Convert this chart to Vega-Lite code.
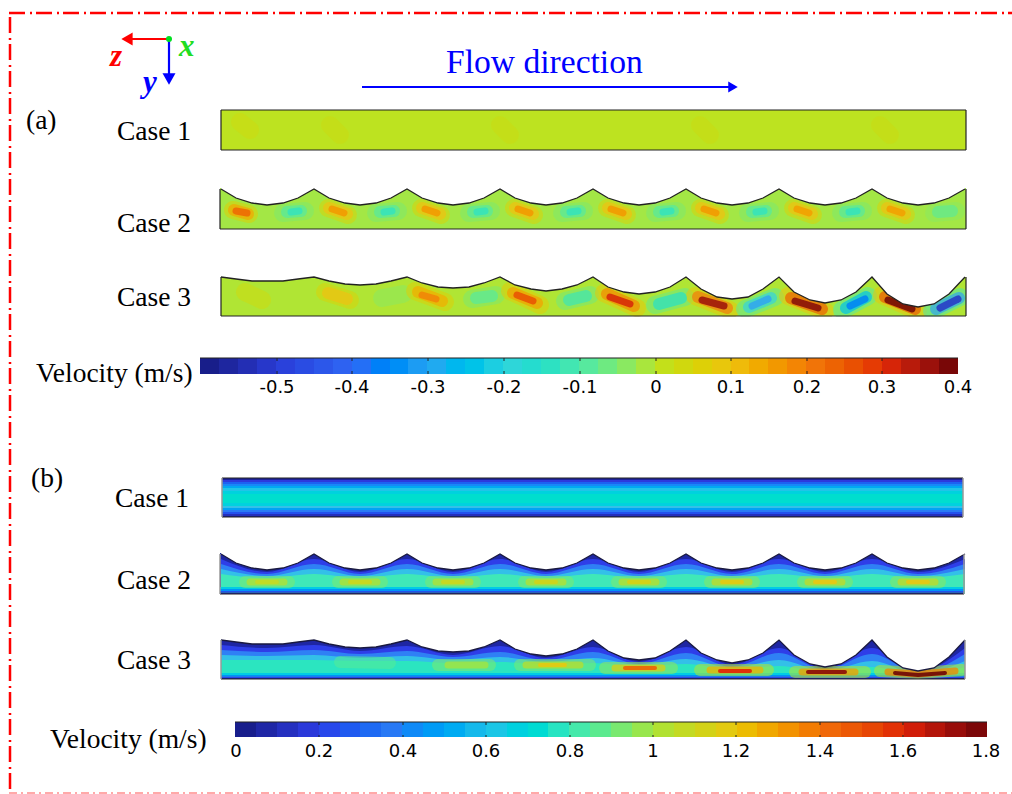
{"$schema":"https://vega.github.io/schema/vega-lite/v6.json","width":1012,"height":794,"padding":0,"autosize":"none","background":"#ffffff","config":{"view":{"stroke":null}},
"datasets":{
"ar":[{"x":221,"x2":966,"y":110,"y2":150,"v":0},{"x":220,"x2":966,"y":188,"y2":229,"v":-0.02},{"x":221,"x2":966,"y":277,"y2":316,"v":-0.01},
{"x":200,"x2":219,"y":358,"y2":374,"v":-0.59},{"x":219,"x2":238,"y":358,"y2":374,"v":-0.565},{"x":238,"x2":257,"y":358,"y2":374,"v":-0.54},{"x":257,"x2":276,"y":358,"y2":374,"v":-0.515},{"x":276,"x2":295,"y":358,"y2":374,"v":-0.49},{"x":295,"x2":314,"y":358,"y2":374,"v":-0.465},{"x":314,"x2":333,"y":358,"y2":374,"v":-0.44},{"x":333,"x2":352,"y":358,"y2":374,"v":-0.415},{"x":352,"x2":371,"y":358,"y2":374,"v":-0.39},{"x":371,"x2":390,"y":358,"y2":374,"v":-0.365},{"x":390,"x2":408,"y":358,"y2":374,"v":-0.34},{"x":408,"x2":427,"y":358,"y2":374,"v":-0.315},{"x":427,"x2":446,"y":358,"y2":374,"v":-0.29},{"x":446,"x2":465,"y":358,"y2":374,"v":-0.265},{"x":465,"x2":484,"y":358,"y2":374,"v":-0.24},{"x":484,"x2":503,"y":358,"y2":374,"v":-0.215},{"x":503,"x2":522,"y":358,"y2":374,"v":-0.19},{"x":522,"x2":541,"y":358,"y2":374,"v":-0.165},{"x":541,"x2":560,"y":358,"y2":374,"v":-0.14},{"x":560,"x2":579,"y":358,"y2":374,"v":-0.115},{"x":579,"x2":598,"y":358,"y2":374,"v":-0.09},{"x":598,"x2":617,"y":358,"y2":374,"v":-0.065},{"x":617,"x2":636,"y":358,"y2":374,"v":-0.04},{"x":636,"x2":655,"y":358,"y2":374,"v":-0.015},{"x":655,"x2":674,"y":358,"y2":374,"v":0.01},{"x":674,"x2":693,"y":358,"y2":374,"v":0.035},{"x":693,"x2":712,"y":358,"y2":374,"v":0.06},{"x":712,"x2":731,"y":358,"y2":374,"v":0.085},{"x":731,"x2":749,"y":358,"y2":374,"v":0.11},{"x":749,"x2":768,"y":358,"y2":374,"v":0.135},{"x":768,"x2":787,"y":358,"y2":374,"v":0.16},{"x":787,"x2":806,"y":358,"y2":374,"v":0.185},{"x":806,"x2":825,"y":358,"y2":374,"v":0.21},{"x":825,"x2":844,"y":358,"y2":374,"v":0.235},{"x":844,"x2":863,"y":358,"y2":374,"v":0.26},{"x":863,"x2":882,"y":358,"y2":374,"v":0.285},{"x":882,"x2":901,"y":358,"y2":374,"v":0.31},{"x":901,"x2":920,"y":358,"y2":374,"v":0.335},{"x":920,"x2":939,"y":358,"y2":374,"v":0.36},{"x":939,"x2":958,"y":358,"y2":374,"v":0.39}],
"ao":[{"i":41,"x":240,"y":122,"v":0.03},{"i":41,"x":250,"y":130,"v":0.03},{"i":42,"x":330,"y":125,"v":0.025},{"i":42,"x":340,"y":135,"v":0.025},{"i":43,"x":500,"y":125,"v":0.025},{"i":43,"x":510,"y":135,"v":0.025},{"i":44,"x":700,"y":125,"v":0.025},{"i":44,"x":710,"y":135,"v":0.025},{"i":45,"x":880,"y":125,"v":0.025},{"i":45,"x":890,"y":135,"v":0.025},
{"i":1,"x":233,"y":210,"v":0.06},{"i":1,"x":249,"y":214,"v":0.06},{"i":2,"x":328,"y":208,"v":0.05},{"i":2,"x":348,"y":215,"v":0.05},{"i":3,"x":421,"y":208,"v":0.05},{"i":3,"x":441,"y":215,"v":0.05},{"i":4,"x":514,"y":208,"v":0.05},{"i":4,"x":534,"y":215,"v":0.05},{"i":5,"x":607,"y":208,"v":0.05},{"i":5,"x":627,"y":215,"v":0.05},{"i":6,"x":700,"y":208,"v":0.05},{"i":6,"x":720,"y":215,"v":0.05},{"i":7,"x":793,"y":208,"v":0.05},{"i":7,"x":813,"y":215,"v":0.05},{"i":8,"x":886,"y":208,"v":0.05},{"i":8,"x":906,"y":215,"v":0.05},
{"i":9,"x":283,"y":213,"v":-0.05},{"i":9,"x":305,"y":211,"v":-0.05},{"i":10,"x":376,"y":213,"v":-0.05},{"i":10,"x":398,"y":211,"v":-0.05},{"i":11,"x":469,"y":213,"v":-0.05},{"i":11,"x":491,"y":211,"v":-0.05},{"i":12,"x":562,"y":213,"v":-0.05},{"i":12,"x":584,"y":211,"v":-0.05},{"i":13,"x":655,"y":213,"v":-0.05},{"i":13,"x":677,"y":211,"v":-0.05},{"i":14,"x":748,"y":213,"v":-0.05},{"i":14,"x":770,"y":211,"v":-0.05},{"i":15,"x":841,"y":213,"v":-0.05},{"i":15,"x":863,"y":211,"v":-0.05},{"i":16,"x":934,"y":213,"v":-0.04},{"i":16,"x":956,"y":211,"v":-0.04},
{"i":17,"x":245,"y":292,"v":0.03},{"i":17,"x":262,"y":300,"v":0.03},{"i":18,"x":325,"y":292,"v":0.05},{"i":18,"x":350,"y":300,"v":0.05},{"i":19,"x":382,"y":298,"v":-0.04},{"i":19,"x":403,"y":294,"v":-0.04},{"i":20,"x":415,"y":291,"v":0.06},{"i":20,"x":445,"y":302,"v":0.06},{"i":21,"x":472,"y":299,"v":-0.05},{"i":21,"x":496,"y":295,"v":-0.05},{"i":22,"x":510,"y":291,"v":0.07},{"i":22,"x":540,"y":305,"v":0.07},{"i":23,"x":565,"y":301,"v":-0.06},{"i":23,"x":590,"y":295,"v":-0.06},{"i":24,"x":604,"y":293,"v":0.08},{"i":24,"x":637,"y":308,"v":0.08},{"i":25,"x":655,"y":305,"v":-0.07},{"i":25,"x":685,"y":297,"v":-0.07},{"i":26,"x":695,"y":296,"v":0.08},{"i":26,"x":730,"y":310,"v":0.08},{"i":27,"x":745,"y":309,"v":-0.08},{"i":27,"x":775,"y":297,"v":-0.08},{"i":28,"x":788,"y":296,"v":0.09},{"i":28,"x":825,"y":311,"v":0.09},{"i":29,"x":842,"y":310,"v":-0.09},{"i":29,"x":868,"y":296,"v":-0.09},{"i":30,"x":882,"y":295,"v":0.09},{"i":30,"x":918,"y":311,"v":0.09},{"i":31,"x":932,"y":311,"v":-0.1},{"i":31,"x":960,"y":297,"v":-0.1}],
"am":[{"i":1,"x":234,"y":210,"v":0.14},{"i":1,"x":248,"y":214,"v":0.14},{"i":2,"x":329,"y":208,"v":0.1},{"i":2,"x":347,"y":214,"v":0.1},{"i":3,"x":422,"y":208,"v":0.1},{"i":3,"x":440,"y":214,"v":0.1},{"i":4,"x":515,"y":208,"v":0.1},{"i":4,"x":533,"y":214,"v":0.1},{"i":5,"x":608,"y":208,"v":0.1},{"i":5,"x":626,"y":214,"v":0.1},{"i":6,"x":701,"y":208,"v":0.1},{"i":6,"x":719,"y":214,"v":0.1},{"i":7,"x":794,"y":208,"v":0.1},{"i":7,"x":812,"y":214,"v":0.1},{"i":8,"x":887,"y":208,"v":0.1},{"i":8,"x":905,"y":214,"v":0.1},
{"i":9,"x":287,"y":212,"v":-0.09},{"i":9,"x":301,"y":211,"v":-0.09},{"i":10,"x":380,"y":212,"v":-0.09},{"i":10,"x":394,"y":211,"v":-0.09},{"i":11,"x":473,"y":212,"v":-0.09},{"i":11,"x":487,"y":211,"v":-0.09},{"i":12,"x":566,"y":212,"v":-0.09},{"i":12,"x":580,"y":211,"v":-0.09},{"i":13,"x":659,"y":212,"v":-0.09},{"i":13,"x":673,"y":211,"v":-0.09},{"i":14,"x":752,"y":212,"v":-0.09},{"i":14,"x":766,"y":211,"v":-0.09},{"i":15,"x":845,"y":212,"v":-0.09},{"i":15,"x":859,"y":211,"v":-0.09},{"i":16,"x":938,"y":212,"v":-0.08},{"i":16,"x":952,"y":211,"v":-0.08},
{"i":18,"x":328,"y":293,"v":0.1},{"i":18,"x":347,"y":299,"v":0.1},{"i":20,"x":418,"y":292,"v":0.13},{"i":20,"x":442,"y":301,"v":0.13},{"i":21,"x":476,"y":298,"v":-0.09},{"i":21,"x":492,"y":296,"v":-0.09},{"i":22,"x":513,"y":293,"v":0.15},{"i":22,"x":537,"y":303,"v":0.15},{"i":23,"x":569,"y":300,"v":-0.12},{"i":23,"x":586,"y":296,"v":-0.12},{"i":24,"x":607,"y":294,"v":0.18},{"i":24,"x":634,"y":306,"v":0.18},{"i":25,"x":659,"y":304,"v":-0.15},{"i":25,"x":681,"y":298,"v":-0.15},{"i":26,"x":698,"y":297,"v":0.2},{"i":26,"x":727,"y":308,"v":0.2},{"i":27,"x":749,"y":307,"v":-0.2},{"i":27,"x":771,"y":298,"v":-0.2},{"i":28,"x":791,"y":298,"v":0.24},{"i":28,"x":822,"y":309,"v":0.24},{"i":29,"x":846,"y":308,"v":-0.24},{"i":29,"x":866,"y":297,"v":-0.24},{"i":30,"x":885,"y":297,"v":0.25},{"i":30,"x":915,"y":309,"v":0.25},{"i":31,"x":936,"y":309,"v":-0.3},{"i":31,"x":959,"y":298,"v":-0.3}],
"ac":[{"i":1,"x":236,"y":211,"v":0.23},{"i":1,"x":247,"y":213,"v":0.23},{"i":2,"x":332,"y":209,"v":0.16},{"i":2,"x":344,"y":213,"v":0.16},{"i":3,"x":425,"y":209,"v":0.16},{"i":3,"x":437,"y":213,"v":0.16},{"i":4,"x":518,"y":209,"v":0.16},{"i":4,"x":530,"y":213,"v":0.16},{"i":5,"x":611,"y":209,"v":0.16},{"i":5,"x":623,"y":213,"v":0.16},{"i":6,"x":704,"y":209,"v":0.16},{"i":6,"x":716,"y":213,"v":0.16},{"i":7,"x":797,"y":209,"v":0.15},{"i":7,"x":809,"y":213,"v":0.15},{"i":8,"x":890,"y":209,"v":0.15},{"i":8,"x":902,"y":213,"v":0.15},
{"i":9,"x":291,"y":212,"v":-0.13},{"i":9,"x":299,"y":211,"v":-0.13},{"i":10,"x":384,"y":212,"v":-0.13},{"i":10,"x":392,"y":211,"v":-0.13},{"i":11,"x":477,"y":212,"v":-0.13},{"i":11,"x":485,"y":211,"v":-0.13},{"i":12,"x":570,"y":212,"v":-0.13},{"i":12,"x":578,"y":211,"v":-0.13},{"i":13,"x":663,"y":212,"v":-0.13},{"i":13,"x":671,"y":211,"v":-0.13},{"i":14,"x":756,"y":212,"v":-0.13},{"i":14,"x":764,"y":211,"v":-0.13},{"i":15,"x":849,"y":212,"v":-0.13},{"i":15,"x":857,"y":211,"v":-0.13},
{"i":20,"x":422,"y":295,"v":0.19},{"i":20,"x":436,"y":299,"v":0.19},{"i":22,"x":517,"y":295,"v":0.26},{"i":22,"x":533,"y":301,"v":0.26},{"i":24,"x":610,"y":297,"v":0.31},{"i":24,"x":630,"y":304,"v":0.31},{"i":26,"x":702,"y":300,"v":0.36},{"i":26,"x":724,"y":306,"v":0.36},{"i":27,"x":752,"y":306,"v":-0.3},{"i":27,"x":768,"y":299,"v":-0.3},{"i":28,"x":795,"y":301,"v":0.38},{"i":28,"x":818,"y":308,"v":0.38},{"i":29,"x":850,"y":306,"v":-0.36},{"i":29,"x":865,"y":299,"v":-0.36},{"i":30,"x":888,"y":300,"v":0.4},{"i":30,"x":912,"y":309,"v":0.4},{"i":31,"x":940,"y":308,"v":-0.52},{"i":31,"x":958,"y":299,"v":-0.52}],
"bg":[{"x":220,"x2":964,"y":553,"y2":594,"v":0.07},{"x":221,"x2":965,"y":640,"y2":679,"v":0.07},
{"x":235,"x2":256,"y":722,"y2":737,"v":0.025},{"x":256,"x2":277,"y":722,"y2":737,"v":0.075},{"x":277,"x2":298,"y":722,"y2":737,"v":0.125},{"x":298,"x2":319,"y":722,"y2":737,"v":0.175},{"x":319,"x2":340,"y":722,"y2":737,"v":0.225},{"x":340,"x2":360,"y":722,"y2":737,"v":0.275},{"x":360,"x2":381,"y":722,"y2":737,"v":0.325},{"x":381,"x2":402,"y":722,"y2":737,"v":0.375},{"x":402,"x2":423,"y":722,"y2":737,"v":0.425},{"x":423,"x2":444,"y":722,"y2":737,"v":0.475},{"x":444,"x2":465,"y":722,"y2":737,"v":0.525},{"x":465,"x2":486,"y":722,"y2":737,"v":0.575},{"x":486,"x2":507,"y":722,"y2":737,"v":0.625},{"x":507,"x2":528,"y":722,"y2":737,"v":0.675},{"x":528,"x2":548,"y":722,"y2":737,"v":0.725},{"x":548,"x2":569,"y":722,"y2":737,"v":0.775},{"x":569,"x2":590,"y":722,"y2":737,"v":0.825},{"x":590,"x2":611,"y":722,"y2":737,"v":0.875},{"x":611,"x2":632,"y":722,"y2":737,"v":0.925},{"x":632,"x2":653,"y":722,"y2":737,"v":0.975},{"x":653,"x2":674,"y":722,"y2":737,"v":1.025},{"x":674,"x2":695,"y":722,"y2":737,"v":1.075},{"x":695,"x2":716,"y":722,"y2":737,"v":1.125},{"x":716,"x2":737,"y":722,"y2":737,"v":1.175},{"x":737,"x2":757,"y":722,"y2":737,"v":1.225},{"x":757,"x2":778,"y":722,"y2":737,"v":1.275},{"x":778,"x2":799,"y":722,"y2":737,"v":1.325},{"x":799,"x2":820,"y":722,"y2":737,"v":1.375},{"x":820,"x2":841,"y":722,"y2":737,"v":1.425},{"x":841,"x2":862,"y":722,"y2":737,"v":1.475},{"x":862,"x2":883,"y":722,"y2":737,"v":1.525},{"x":883,"x2":904,"y":722,"y2":737,"v":1.575},{"x":904,"x2":925,"y":722,"y2":737,"v":1.625},{"x":925,"x2":945,"y":722,"y2":737,"v":1.675},{"x":945,"x2":966,"y":722,"y2":737,"v":1.725},{"x":966,"x2":987,"y":722,"y2":737,"v":1.775}],
"bi":[{"g":1,"x":221,"y":559,"z":594,"v":0.2},{"g":1,"x":267,"y":572,"z":594,"v":0.2},{"g":1,"x":314,"y":559,"z":594,"v":0.2},{"g":1,"x":360,"y":572,"z":594,"v":0.2},{"g":1,"x":407,"y":559,"z":594,"v":0.2},{"g":1,"x":453,"y":572,"z":594,"v":0.2},{"g":1,"x":500,"y":559,"z":594,"v":0.2},{"g":1,"x":546,"y":572,"z":594,"v":0.2},{"g":1,"x":593,"y":559,"z":594,"v":0.2},{"g":1,"x":639,"y":572,"z":594,"v":0.2},{"g":1,"x":686,"y":559,"z":594,"v":0.2},{"g":1,"x":732,"y":572,"z":594,"v":0.2},{"g":1,"x":779,"y":559,"z":594,"v":0.2},{"g":1,"x":825,"y":572,"z":594,"v":0.2},{"g":1,"x":872,"y":559,"z":594,"v":0.2},{"g":1,"x":918,"y":572,"z":594,"v":0.2},{"g":1,"x":965,"y":559,"z":594,"v":0.2},
{"g":2,"x":221,"y":564,"z":594,"v":0.4},{"g":2,"x":267,"y":574,"z":594,"v":0.4},{"g":2,"x":314,"y":564,"z":594,"v":0.4},{"g":2,"x":360,"y":574,"z":594,"v":0.4},{"g":2,"x":407,"y":564,"z":594,"v":0.4},{"g":2,"x":453,"y":574,"z":594,"v":0.4},{"g":2,"x":500,"y":564,"z":594,"v":0.4},{"g":2,"x":546,"y":574,"z":594,"v":0.4},{"g":2,"x":593,"y":564,"z":594,"v":0.4},{"g":2,"x":639,"y":574,"z":594,"v":0.4},{"g":2,"x":686,"y":564,"z":594,"v":0.4},{"g":2,"x":732,"y":574,"z":594,"v":0.4},{"g":2,"x":779,"y":564,"z":594,"v":0.4},{"g":2,"x":825,"y":574,"z":594,"v":0.4},{"g":2,"x":872,"y":564,"z":594,"v":0.4},{"g":2,"x":918,"y":574,"z":594,"v":0.4},{"g":2,"x":965,"y":564,"z":594,"v":0.4},
{"g":3,"x":221,"y":569,"z":594,"v":0.6},{"g":3,"x":267,"y":576,"z":594,"v":0.6},{"g":3,"x":314,"y":569,"z":594,"v":0.6},{"g":3,"x":360,"y":576,"z":594,"v":0.6},{"g":3,"x":407,"y":569,"z":594,"v":0.6},{"g":3,"x":453,"y":576,"z":594,"v":0.6},{"g":3,"x":500,"y":569,"z":594,"v":0.6},{"g":3,"x":546,"y":576,"z":594,"v":0.6},{"g":3,"x":593,"y":569,"z":594,"v":0.6},{"g":3,"x":639,"y":576,"z":594,"v":0.6},{"g":3,"x":686,"y":569,"z":594,"v":0.6},{"g":3,"x":732,"y":576,"z":594,"v":0.6},{"g":3,"x":779,"y":569,"z":594,"v":0.6},{"g":3,"x":825,"y":576,"z":594,"v":0.6},{"g":3,"x":872,"y":569,"z":594,"v":0.6},{"g":3,"x":918,"y":576,"z":594,"v":0.6},{"g":3,"x":965,"y":569,"z":594,"v":0.6},
{"g":4,"x":221,"y":574,"z":594,"v":0.8},{"g":4,"x":267,"y":578,"z":594,"v":0.8},{"g":4,"x":314,"y":574,"z":594,"v":0.8},{"g":4,"x":360,"y":578,"z":594,"v":0.8},{"g":4,"x":407,"y":574,"z":594,"v":0.8},{"g":4,"x":453,"y":578,"z":594,"v":0.8},{"g":4,"x":500,"y":574,"z":594,"v":0.8},{"g":4,"x":546,"y":578,"z":594,"v":0.8},{"g":4,"x":593,"y":574,"z":594,"v":0.8},{"g":4,"x":639,"y":578,"z":594,"v":0.8},{"g":4,"x":686,"y":574,"z":594,"v":0.8},{"g":4,"x":732,"y":578,"z":594,"v":0.8},{"g":4,"x":779,"y":574,"z":594,"v":0.8},{"g":4,"x":825,"y":578,"z":594,"v":0.8},{"g":4,"x":872,"y":574,"z":594,"v":0.8},{"g":4,"x":918,"y":578,"z":594,"v":0.8},{"g":4,"x":965,"y":574,"z":594,"v":0.8},
{"g":5,"x":221,"y":645,"z":679,"v":0.2},{"g":5,"x":267,"y":648,"z":679,"v":0.2},{"g":5,"x":314,"y":645,"z":679,"v":0.2},{"g":5,"x":360,"y":651,"z":679,"v":0.2},{"g":5,"x":407,"y":646,"z":679,"v":0.2},{"g":5,"x":453,"y":655,"z":679,"v":0.2},{"g":5,"x":500,"y":646,"z":679,"v":0.2},{"g":5,"x":546,"y":658,"z":679,"v":0.2},{"g":5,"x":593,"y":647,"z":679,"v":0.2},{"g":5,"x":639,"y":662,"z":679,"v":0.2},{"g":5,"x":686,"y":647,"z":679,"v":0.2},{"g":5,"x":732,"y":665,"z":679,"v":0.2},{"g":5,"x":779,"y":648,"z":679,"v":0.2},{"g":5,"x":825,"y":669,"z":679,"v":0.2},{"g":5,"x":872,"y":648,"z":679,"v":0.2},{"g":5,"x":918,"y":672,"z":679,"v":0.2},{"g":5,"x":965,"y":648,"z":679,"v":0.2},
{"g":6,"x":221,"y":650,"z":679,"v":0.4},{"g":6,"x":267,"y":652,"z":679,"v":0.4},{"g":6,"x":314,"y":650,"z":679,"v":0.4},{"g":6,"x":360,"y":654,"z":679,"v":0.4},{"g":6,"x":407,"y":651,"z":679,"v":0.4},{"g":6,"x":453,"y":657,"z":679,"v":0.4},{"g":6,"x":500,"y":652,"z":679,"v":0.4},{"g":6,"x":546,"y":660,"z":679,"v":0.4},{"g":6,"x":593,"y":652,"z":679,"v":0.4},{"g":6,"x":639,"y":664,"z":679,"v":0.4},{"g":6,"x":686,"y":653,"z":679,"v":0.4},{"g":6,"x":732,"y":667,"z":679,"v":0.4},{"g":6,"x":779,"y":653,"z":679,"v":0.4},{"g":6,"x":825,"y":670,"z":679,"v":0.4},{"g":6,"x":872,"y":654,"z":679,"v":0.4},{"g":6,"x":918,"y":673,"z":679,"v":0.4},{"g":6,"x":965,"y":654,"z":679,"v":0.4},
{"g":7,"x":221,"y":655,"z":679,"v":0.6},{"g":7,"x":267,"y":656,"z":679,"v":0.6},{"g":7,"x":314,"y":655,"z":679,"v":0.6},{"g":7,"x":360,"y":658,"z":679,"v":0.6},{"g":7,"x":407,"y":656,"z":679,"v":0.6},{"g":7,"x":453,"y":660,"z":679,"v":0.6},{"g":7,"x":500,"y":657,"z":679,"v":0.6},{"g":7,"x":546,"y":662,"z":679,"v":0.6},{"g":7,"x":593,"y":658,"z":679,"v":0.6},{"g":7,"x":639,"y":665,"z":679,"v":0.6},{"g":7,"x":686,"y":659,"z":679,"v":0.6},{"g":7,"x":732,"y":668,"z":679,"v":0.6},{"g":7,"x":779,"y":660,"z":679,"v":0.6},{"g":7,"x":825,"y":671,"z":679,"v":0.6},{"g":7,"x":872,"y":661,"z":679,"v":0.6},{"g":7,"x":918,"y":674,"z":679,"v":0.6},{"g":7,"x":965,"y":661,"z":679,"v":0.6},
{"g":8,"x":221,"y":660,"z":679,"v":0.78},{"g":8,"x":267,"y":660,"z":679,"v":0.78},{"g":8,"x":314,"y":660,"z":679,"v":0.78},{"g":8,"x":360,"y":661,"z":679,"v":0.78},{"g":8,"x":407,"y":661,"z":679,"v":0.78},{"g":8,"x":453,"y":663,"z":679,"v":0.78},{"g":8,"x":500,"y":662,"z":679,"v":0.78},{"g":8,"x":546,"y":664,"z":679,"v":0.78},{"g":8,"x":593,"y":663,"z":679,"v":0.78},{"g":8,"x":639,"y":666,"z":679,"v":0.78},{"g":8,"x":686,"y":664,"z":679,"v":0.78},{"g":8,"x":732,"y":669,"z":679,"v":0.78},{"g":8,"x":779,"y":666,"z":679,"v":0.78},{"g":8,"x":825,"y":672,"z":679,"v":0.78},{"g":8,"x":872,"y":667,"z":679,"v":0.78},{"g":8,"x":918,"y":675,"z":679,"v":0.78},{"g":8,"x":965,"y":667,"z":679,"v":0.78}],
"bb":[{"x":222,"x2":963,"y":478,"y2":480,"v":0.05},{"x":222,"x2":963,"y":480,"y2":482,"v":0.18},{"x":222,"x2":963,"y":482,"y2":484,"v":0.3},{"x":222,"x2":963,"y":484,"y2":486,"v":0.42},{"x":222,"x2":963,"y":486,"y2":488,"v":0.52},{"x":222,"x2":963,"y":488,"y2":491,"v":0.62},{"x":222,"x2":963,"y":491,"y2":494,"v":0.68},{"x":222,"x2":963,"y":494,"y2":503,"v":0.74},{"x":222,"x2":963,"y":503,"y2":506,"v":0.68},{"x":222,"x2":963,"y":506,"y2":508,"v":0.6},{"x":222,"x2":963,"y":508,"y2":510,"v":0.5},{"x":222,"x2":963,"y":510,"y2":512,"v":0.38},{"x":222,"x2":963,"y":512,"y2":514,"v":0.25},{"x":222,"x2":963,"y":514,"y2":516,"v":0.12},{"x":222,"x2":963,"y":516,"y2":517,"v":0.04},
{"x":220,"x2":964,"y":587,"y2":589,"v":0.65},{"x":220,"x2":964,"y":589,"y2":591,"v":0.45},{"x":220,"x2":964,"y":591,"y2":592.5,"v":0.25},{"x":220,"x2":964,"y":592.5,"y2":594,"v":0.07},
{"x":221,"x2":965,"y":673,"y2":675,"v":0.65},{"x":221,"x2":965,"y":675,"y2":676.5,"v":0.45},{"x":221,"x2":965,"y":676.5,"y2":678,"v":0.22},{"x":221,"x2":965,"y":678,"y2":679,"v":0.06}],
"bo":[{"i":1,"x":245,"y":582,"v":0.92},{"i":1,"x":289,"y":582,"v":0.92},{"i":2,"x":338,"y":582,"v":0.92},{"i":2,"x":382,"y":582,"v":0.92},{"i":3,"x":431,"y":582,"v":0.92},{"i":3,"x":475,"y":582,"v":0.92},{"i":4,"x":524,"y":582,"v":0.92},{"i":4,"x":568,"y":582,"v":0.92},{"i":5,"x":617,"y":582,"v":0.92},{"i":5,"x":661,"y":582,"v":0.92},{"i":6,"x":710,"y":582,"v":0.94},{"i":6,"x":754,"y":582,"v":0.94},{"i":7,"x":803,"y":582,"v":0.94},{"i":7,"x":847,"y":582,"v":0.94},{"i":8,"x":896,"y":582,"v":0.94},{"i":8,"x":940,"y":582,"v":0.94},
{"i":9,"x":340,"y":662,"v":0.86},{"i":9,"x":390,"y":663,"v":0.86},{"i":10,"x":438,"y":665,"v":0.92},{"i":10,"x":490,"y":665,"v":0.92},{"i":11,"x":520,"y":665,"v":0.92},{"i":11,"x":590,"y":665,"v":0.92},{"i":12,"x":605,"y":668,"v":0.95},{"i":12,"x":672,"y":668,"v":0.95},{"i":13,"x":700,"y":670,"v":1.0},{"i":13,"x":768,"y":670,"v":1.0},{"i":14,"x":795,"y":672,"v":1.0},{"i":14,"x":865,"y":672,"v":1.0},{"i":15,"x":880,"y":671,"v":1.0},{"i":15,"x":918,"y":673,"v":1.0},{"i":15,"x":962,"y":670,"v":1.0}],
"bm":[{"i":1,"x":250,"y":582,"v":1.03},{"i":1,"x":284,"y":582,"v":1.03},{"i":2,"x":343,"y":582,"v":1.03},{"i":2,"x":377,"y":582,"v":1.03},{"i":3,"x":436,"y":582,"v":1.03},{"i":3,"x":470,"y":582,"v":1.03},{"i":4,"x":529,"y":582,"v":1.04},{"i":4,"x":563,"y":582,"v":1.04},{"i":5,"x":622,"y":582,"v":1.05},{"i":5,"x":656,"y":582,"v":1.05},{"i":6,"x":715,"y":582,"v":1.07},{"i":6,"x":749,"y":582,"v":1.07},{"i":7,"x":808,"y":582,"v":1.07},{"i":7,"x":842,"y":582,"v":1.07},{"i":8,"x":901,"y":582,"v":1.07},{"i":8,"x":935,"y":582,"v":1.07},
{"i":10,"x":448,"y":665,"v":1.0},{"i":10,"x":485,"y":665,"v":1.0},{"i":11,"x":526,"y":665,"v":1.05},{"i":11,"x":580,"y":665,"v":1.05},{"i":12,"x":615,"y":668,"v":1.15},{"i":12,"x":662,"y":668,"v":1.15},{"i":13,"x":710,"y":670,"v":1.25},{"i":13,"x":760,"y":670,"v":1.25},{"i":14,"x":802,"y":672,"v":1.3},{"i":14,"x":855,"y":672,"v":1.3},{"i":15,"x":888,"y":672,"v":1.35},{"i":15,"x":918,"y":674,"v":1.35},{"i":15,"x":955,"y":671,"v":1.35}],
"bc":[{"i":1,"x":257,"y":582,"v":1.08},{"i":1,"x":277,"y":582,"v":1.08},{"i":2,"x":350,"y":582,"v":1.1},{"i":2,"x":370,"y":582,"v":1.1},{"i":3,"x":443,"y":582,"v":1.1},{"i":3,"x":463,"y":582,"v":1.1},{"i":4,"x":536,"y":582,"v":1.12},{"i":4,"x":556,"y":582,"v":1.12},{"i":5,"x":629,"y":582,"v":1.14},{"i":5,"x":649,"y":582,"v":1.14},{"i":6,"x":722,"y":582,"v":1.18},{"i":6,"x":742,"y":582,"v":1.18},{"i":7,"x":815,"y":582,"v":1.2},{"i":7,"x":835,"y":582,"v":1.2},{"i":8,"x":908,"y":582,"v":1.2},{"i":8,"x":928,"y":582,"v":1.2},
{"i":11,"x":540,"y":665,"v":1.18},{"i":11,"x":565,"y":665,"v":1.18},{"i":12,"x":625,"y":668,"v":1.45},{"i":12,"x":655,"y":668,"v":1.45},{"i":13,"x":720,"y":671,"v":1.6},{"i":13,"x":750,"y":671,"v":1.6},{"i":14,"x":808,"y":672,"v":1.75},{"i":14,"x":845,"y":672,"v":1.75},{"i":15,"x":895,"y":673,"v":1.8},{"i":15,"x":918,"y":675,"v":1.8},{"i":15,"x":945,"y":673,"v":1.8}],
"mask":[{"x":210,"x2":985,"y":229.5,"y2":250},{"x":210,"x2":985,"y":316.5,"y2":340},{"x":210,"x2":985,"y":594,"y2":615},{"x":210,"x2":985,"y":679,"y2":700},{"x":966,"x2":985,"y":175,"y2":335},{"x":965,"x2":985,"y":535,"y2":700}],
"wave":[{"x":221,"a":189,"b":277,"c":554,"d":640},{"x":236,"a":198,"b":279,"c":563,"d":642},{"x":252,"a":203,"b":281,"c":568,"d":644},{"x":267,"a":205,"b":281,"c":570,"d":644},{"x":283,"a":203,"b":281,"c":568,"d":644},{"x":298,"a":198,"b":279,"c":563,"d":642},{"x":314,"a":189,"b":277,"c":554,"d":640},{"x":329,"a":198,"b":281,"c":563,"d":644},{"x":345,"a":203,"b":284,"c":568,"d":647},{"x":360,"a":205,"b":285,"c":570,"d":648},{"x":376,"a":203,"b":284,"c":568,"d":647},{"x":391,"a":198,"b":281,"c":563,"d":644},{"x":407,"a":189,"b":277,"c":554,"d":640},{"x":422,"a":198,"b":283,"c":563,"d":647},{"x":438,"a":203,"b":287,"c":568,"d":651},{"x":453,"a":205,"b":288,"c":570,"d":652},{"x":469,"a":203,"b":287,"c":568,"d":651},{"x":484,"a":198,"b":283,"c":563,"d":647},{"x":500,"a":189,"b":277,"c":554,"d":640},{"x":515,"a":198,"b":285,"c":563,"d":649},{"x":531,"a":203,"b":289,"c":568,"d":654},{"x":546,"a":205,"b":291,"c":570,"d":656},{"x":562,"a":203,"b":289,"c":568,"d":654},{"x":577,"a":198,"b":285,"c":563,"d":649},{"x":593,"a":189,"b":277,"c":554,"d":640},{"x":608,"a":198,"b":287,"c":563,"d":651},{"x":624,"a":203,"b":292,"c":568,"d":658},{"x":639,"a":205,"b":294,"c":570,"d":660},{"x":655,"a":203,"b":292,"c":568,"d":658},{"x":670,"a":198,"b":287,"c":563,"d":651},{"x":686,"a":189,"b":277,"c":554,"d":640},{"x":701,"a":198,"b":289,"c":563,"d":653},{"x":717,"a":203,"b":297,"c":568,"d":660},{"x":732,"a":205,"b":299,"c":570,"d":663},{"x":748,"a":203,"b":297,"c":568,"d":660},{"x":763,"a":198,"b":289,"c":563,"d":653},{"x":779,"a":189,"b":277,"c":554,"d":640},{"x":794,"a":198,"b":292,"c":563,"d":655},{"x":810,"a":203,"b":300,"c":568,"d":664},{"x":825,"a":205,"b":303,"c":570,"d":667},{"x":841,"a":203,"b":300,"c":568,"d":664},{"x":856,"a":198,"b":292,"c":563,"d":655},{"x":872,"a":189,"b":277,"c":554,"d":640},{"x":887,"a":198,"b":294,"c":563,"d":657},{"x":903,"a":203,"b":304,"c":568,"d":668},{"x":918,"a":205,"b":307,"c":570,"d":671},{"x":934,"a":203,"b":304,"c":568,"d":668},{"x":949,"a":198,"b":294,"c":563,"d":657},{"x":965,"a":189,"b":277,"c":554,"d":640}],
"edge":[{"x":221,"x2":966,"y":110,"y2":110},{"x":221,"x2":966,"y":150,"y2":150},{"x":221,"x2":221,"y":110,"y2":150},{"x":966,"x2":966,"y":110,"y2":150},{"x":220,"x2":220,"y":189,"y2":229},{"x":220,"x2":966,"y":229,"y2":229},{"x":966,"x2":966,"y":189,"y2":229},{"x":221,"x2":221,"y":277,"y2":316},{"x":221,"x2":966,"y":316,"y2":316},{"x":966,"x2":966,"y":277,"y2":316},{"x":222,"x2":963,"y":478,"y2":478},{"x":222,"x2":963,"y":517,"y2":517},{"x":220,"x2":964,"y":594,"y2":594},{"x":221,"x2":965,"y":679,"y2":679},{"x":200,"x2":958,"y":358,"y2":358},{"x":235,"x2":987,"y":722,"y2":722}],
"edgeg":[{"x":222,"x2":222,"y":478,"y2":517},{"x":963,"x2":963,"y":478,"y2":517},{"x":220,"x2":220,"y":554,"y2":594},{"x":964,"x2":964,"y":554,"y2":594},{"x":221,"x2":221,"y":640,"y2":679},{"x":965,"x2":965,"y":640,"y2":679}],
"ticks":[{"x":277,"y":358,"y2":374},{"x":352,"y":358,"y2":374},{"x":428,"y":358,"y2":374},{"x":504,"y":358,"y2":374},{"x":580,"y":358,"y2":374},{"x":656,"y":358,"y2":374},{"x":731,"y":358,"y2":374},{"x":807,"y":358,"y2":374},{"x":882,"y":358,"y2":374},{"x":319,"y":722,"y2":737},{"x":403,"y":722,"y2":737},{"x":486,"y":722,"y2":737},{"x":570,"y":722,"y2":737},{"x":653,"y":722,"y2":737},{"x":736,"y":722,"y2":737},{"x":820,"y":722,"y2":737},{"x":903,"y":722,"y2":737}],
"barlabels":[{"x":277,"y":388,"t":"-0.5"},{"x":352,"y":388,"t":"-0.4"},{"x":428,"y":388,"t":"-0.3"},{"x":504,"y":388,"t":"-0.2"},{"x":580,"y":388,"t":"-0.1"},{"x":656,"y":388,"t":"0"},{"x":731,"y":388,"t":"0.1"},{"x":807,"y":388,"t":"0.2"},{"x":882,"y":388,"t":"0.3"},{"x":958,"y":388,"t":"0.4"},{"x":236,"y":752,"t":"0"},{"x":319,"y":752,"t":"0.2"},{"x":403,"y":752,"t":"0.4"},{"x":486,"y":752,"t":"0.6"},{"x":570,"y":752,"t":"0.8"},{"x":653,"y":752,"t":"1"},{"x":736,"y":752,"t":"1.2"},{"x":820,"y":752,"t":"1.4"},{"x":903,"y":752,"t":"1.6"},{"x":986,"y":752,"t":"1.8"}],
"labels":[{"x":117,"y":140,"t":"Case 1"},{"x":117,"y":232,"t":"Case 2"},{"x":117,"y":306,"t":"Case 3"},{"x":115,"y":507,"t":"Case 1"},{"x":117,"y":589,"t":"Case 2"},{"x":117,"y":669,"t":"Case 3"},{"x":36,"y":382,"t":"Velocity (m/s)"},{"x":50,"y":748,"t":"Velocity (m/s)"},{"x":26,"y":129,"t":"(a)"},{"x":31,"y":487,"t":"(b)"}]
},
"encoding":{"x":{"field":"x","type":"quantitative","scale":{"domain":[0,1012]},"axis":null},"y":{"field":"y","type":"quantitative","scale":{"domain":[794,0]},"axis":null}},
"resolve":{"scale":{"color":"independent"}},
"layer":[
{"encoding":{"color":{"field":"v","type":"quantitative","scale":{"domain":[-0.602,-0.5,-0.4,-0.3,-0.2,-0.1,0,0.1,0.2,0.3,0.4],"range":["#151a80","#2a3cd8","#3068f5","#30a4f0","#35d4dc","#50e8a8","#bde320","#eec212","#f27a0c","#e22a06","#6e0505"]},"legend":null}},
"layer":[
{"data":{"name":"ar"},"mark":"rect","encoding":{"x2":{"field":"x2"},"y2":{"field":"y2"}}},
{"data":{"name":"ao"},"mark":{"type":"line","strokeWidth":18,"strokeCap":"round","opacity":0.55},"encoding":{"detail":{"field":"i"}}},
{"data":{"name":"am"},"mark":{"type":"line","strokeWidth":12,"strokeCap":"round","opacity":0.7},"encoding":{"detail":{"field":"i"}}},
{"data":{"name":"ac"},"mark":{"type":"line","strokeWidth":7,"strokeCap":"round","opacity":0.85},"encoding":{"detail":{"field":"i"}}}
]},
{"encoding":{"color":{"field":"v","type":"quantitative","scale":{"domain":[0,0.2,0.4,0.6,0.8,1,1.2,1.4,1.6,1.8],"range":["#151a80","#2e3ee8","#2f80f5","#33c0e8","#3fe8b8","#a8e43a","#eac612","#f2700c","#e02206","#6e0505"]},"legend":null}},
"layer":[
{"data":{"name":"bg"},"mark":"rect","encoding":{"x2":{"field":"x2"},"y2":{"field":"y2"}}},
{"data":{"name":"bi"},"mark":{"type":"area","interpolate":"monotone","opacity":1},"encoding":{"y2":{"field":"z"},"detail":{"field":"g"}}},
{"data":{"name":"bb"},"mark":"rect","encoding":{"x2":{"field":"x2"},"y2":{"field":"y2"}}},
{"data":{"name":"bo"},"mark":{"type":"line","strokeWidth":12,"strokeCap":"round","opacity":0.6},"encoding":{"detail":{"field":"i"}}},
{"data":{"name":"bm"},"mark":{"type":"line","strokeWidth":7,"strokeCap":"round","opacity":0.75},"encoding":{"detail":{"field":"i"}}},
{"data":{"name":"bc"},"mark":{"type":"line","strokeWidth":4,"strokeCap":"round","opacity":0.9},"encoding":{"detail":{"field":"i"}}}
]},
{"layer":[
{"data":{"name":"mask"},"mark":{"type":"rect","fill":"#ffffff"},"encoding":{"x2":{"field":"x2"},"y2":{"field":"y2"}}},
{"data":{"name":"wave"},"mark":{"type":"area","fill":"#ffffff","opacity":1,"line":{"stroke":"#222222","strokeWidth":1.3}},"encoding":{"y":{"field":"a","type":"quantitative","scale":{"domain":[794,0]},"axis":null},"y2":{"datum":172}}},
{"data":{"name":"wave"},"mark":{"type":"area","fill":"#ffffff","opacity":1,"line":{"stroke":"#222222","strokeWidth":1.3}},"encoding":{"y":{"field":"b","type":"quantitative","scale":{"domain":[794,0]},"axis":null},"y2":{"datum":262}}},
{"data":{"name":"wave"},"mark":{"type":"area","fill":"#ffffff","opacity":1,"line":{"stroke":"#1a1a40","strokeWidth":1.3}},"encoding":{"y":{"field":"c","type":"quantitative","scale":{"domain":[794,0]},"axis":null},"y2":{"datum":535}}},
{"data":{"name":"wave"},"mark":{"type":"area","fill":"#ffffff","opacity":1,"line":{"stroke":"#1a1a40","strokeWidth":1.3}},"encoding":{"y":{"field":"d","type":"quantitative","scale":{"domain":[794,0]},"axis":null},"y2":{"datum":620}}},
{"data":{"name":"edge"},"mark":{"type":"rule","stroke":"#222222","strokeWidth":1.2},"encoding":{"x2":{"field":"x2"},"y2":{"field":"y2"}}},
{"data":{"name":"edgeg"},"mark":{"type":"rule","stroke":"#999999","strokeWidth":1.5},"encoding":{"x2":{"field":"x2"},"y2":{"field":"y2"}}},
{"data":{"name":"ticks"},"mark":{"type":"rule","stroke":"#222222","strokeWidth":1,"strokeDash":[3,10,3,0]},"encoding":{"y2":{"field":"y2"}}},
{"data":{"values":[{"x":10,"x2":10,"y":17,"y2":793},{"x":9,"x2":1012,"y":13,"y2":13}]},"mark":{"type":"rule","stroke":"#ff0000","strokeWidth":2.5,"strokeDash":[16,5,2,4]},"encoding":{"x2":{"field":"x2"},"y2":{"field":"y2"}}},
{"data":{"values":[{"x":9,"x2":1012,"y":793,"y2":793}]},"mark":{"type":"rule","stroke":"#ff5555","strokeWidth":1.2,"strokeDash":[8,4,2,4]},"encoding":{"x2":{"field":"x2"},"y2":{"field":"y2"}}},
{"data":{"values":[{"x":169,"x2":126,"y":39,"y2":39}]},"mark":{"type":"rule","stroke":"#ff0000","strokeWidth":2},"encoding":{"x2":{"field":"x2"},"y2":{"field":"y2"}}},
{"data":{"values":[{"x":169,"x2":169,"y":39,"y2":76},{"x":362,"x2":729,"y":87,"y2":87}]},"mark":{"type":"rule","stroke":"#0000ff","strokeWidth":2.2},"encoding":{"x2":{"field":"x2"},"y2":{"field":"y2"}}},
{"data":{"values":[{"x":127,"y":39}]},"mark":{"type":"point","shape":"triangle-left","filled":true,"fill":"#ff0000","size":170,"opacity":1}},
{"data":{"values":[{"x":169,"y":79}]},"mark":{"type":"point","shape":"triangle-down","filled":true,"fill":"#0000ff","size":170,"opacity":1}},
{"data":{"values":[{"x":733,"y":87}]},"mark":{"type":"point","shape":"triangle-right","filled":true,"fill":"#0000ff","size":120,"opacity":1}},
{"data":{"values":[{"x":169,"y":39}]},"mark":{"type":"point","shape":"circle","filled":true,"fill":"#00e020","size":36,"opacity":1}},
{"data":{"name":"labels"},"mark":{"type":"text","font":"Liberation Serif","fontSize":27.5,"align":"left","baseline":"alphabetic","fill":"#000000"},"encoding":{"text":{"field":"t"}}},
{"data":{"name":"barlabels"},"mark":{"type":"text","font":"DejaVu Sans","fontSize":18,"align":"center","baseline":"middle","fill":"#000000"},"encoding":{"text":{"field":"t"}}},
{"data":{"values":[{"x":446,"y":73,"t":"Flow direction"}]},"mark":{"type":"text","font":"Liberation Serif","fontSize":33.6,"align":"left","baseline":"alphabetic","fill":"#0000ff"},"encoding":{"text":{"field":"t"}}},
{"data":{"values":[{"x":110,"y":66,"t":"z"}]},"mark":{"type":"text","font":"Liberation Serif","fontSize":31,"fontStyle":"italic","fontWeight":"bold","align":"left","baseline":"alphabetic","fill":"#ff0000"},"encoding":{"text":{"field":"t"}}},
{"data":{"values":[{"x":179,"y":56,"t":"x"}]},"mark":{"type":"text","font":"Liberation Serif","fontSize":31,"fontStyle":"italic","fontWeight":"bold","align":"left","baseline":"alphabetic","fill":"#22dd22"},"encoding":{"text":{"field":"t"}}},
{"data":{"values":[{"x":143,"y":92,"t":"y"}]},"mark":{"type":"text","font":"Liberation Serif","fontSize":31,"fontStyle":"italic","fontWeight":"bold","align":"left","baseline":"alphabetic","fill":"#0000ff"},"encoding":{"text":{"field":"t"}}}
]}
]}
